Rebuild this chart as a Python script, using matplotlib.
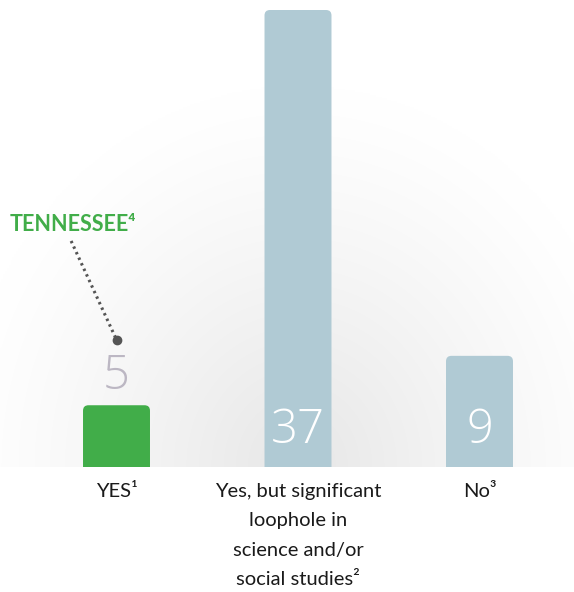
import numpy as np
import matplotlib.pyplot as plt
from matplotlib.patches import FancyBboxPatch, Rectangle

plt.rcParams['font.family'] = ['Lato', 'DejaVu Sans']

# data
categories = ['YES¹', 'Yes, but significant\nloophole in\nscience and/or\nsocial studies²', 'No³']
values = [5, 37, 9]
bar_colors = ['#41ad49', '#b0cad4', '#b0cad4']
highlight = 'TENNESSEE⁴'

fig = plt.figure(figsize=(5.74, 5.92), dpi=100)
ax = fig.add_axes([0, 0, 1, 1])
ax.set_xlim(-0.6419, 2.5207)
ax.set_ylim(-10.12, 37.81)
ax.axis('off')

# background glow above baseline
gx = np.linspace(-0.6419, 2.5207, 300)
gy = np.linspace(0, 37.81, 300)
X, Y = np.meshgrid(gx, gy)
dx = (X - 1.0) * 181.5 / 340.0
dy = (Y - 0.0) * 12.35 / 380.0
r = np.sqrt(dx ** 2 + dy ** 2)
shade = 1.0 - 0.095 * np.clip(1 - r, 0, 1) ** 1.2
img = np.dstack([shade, shade, shade])
ax.imshow(img, extent=(gx[0], gx[-1], 0, 37.81), origin='lower',
          aspect='auto', zorder=0, interpolation='bilinear')

# bars with rounded tops (bottom corners clipped at baseline)
width = 0.369
clip = Rectangle((-1, 0), 5, 50, transform=ax.transData)
for i, (v, c) in enumerate(zip(values, bar_colors)):
    p = FancyBboxPatch((i - width / 2, -2), width, v + 2,
                       boxstyle='round,pad=0,rounding_size=0.03',
                       mutation_aspect=14.7, fc=c, ec='none', zorder=2)
    ax.add_patch(p)
    p.set_clip_path(clip)

# value labels
num_font = dict(family=['Open Sans', 'Lato'], fontweight='light', fontsize=34)
ax.text(0, 7.3, str(values[0]), ha='center', va='center',
        color='#bcb7c3', **num_font)
for i in (1, 2):
    ax.text(i, 2.9, str(values[i]), ha='center', va='center',
            color='white', **num_font)

# category labels
for i, lab in enumerate(categories):
    ax.text(i, -1.3, lab, ha='center', va='top', fontsize=14.5,
            color='#1a1a1a', linespacing=1.88)

# Tennessee annotation
ax.plot([-0.25, 0.0], [18.3, 10.3], color='#555555', lw=2.2,
        linestyle=(0, (0.8, 1.2)), zorder=3)
ax.plot([0.0], [10.3], 'o', color='#555555', ms=6, zorder=3)
ax.text(-0.59, 19.6, highlight, ha='left', va='center', fontsize=15.5,
        fontweight='bold', color='#41ad49')

fig.savefig('out.png', dpi=100)
